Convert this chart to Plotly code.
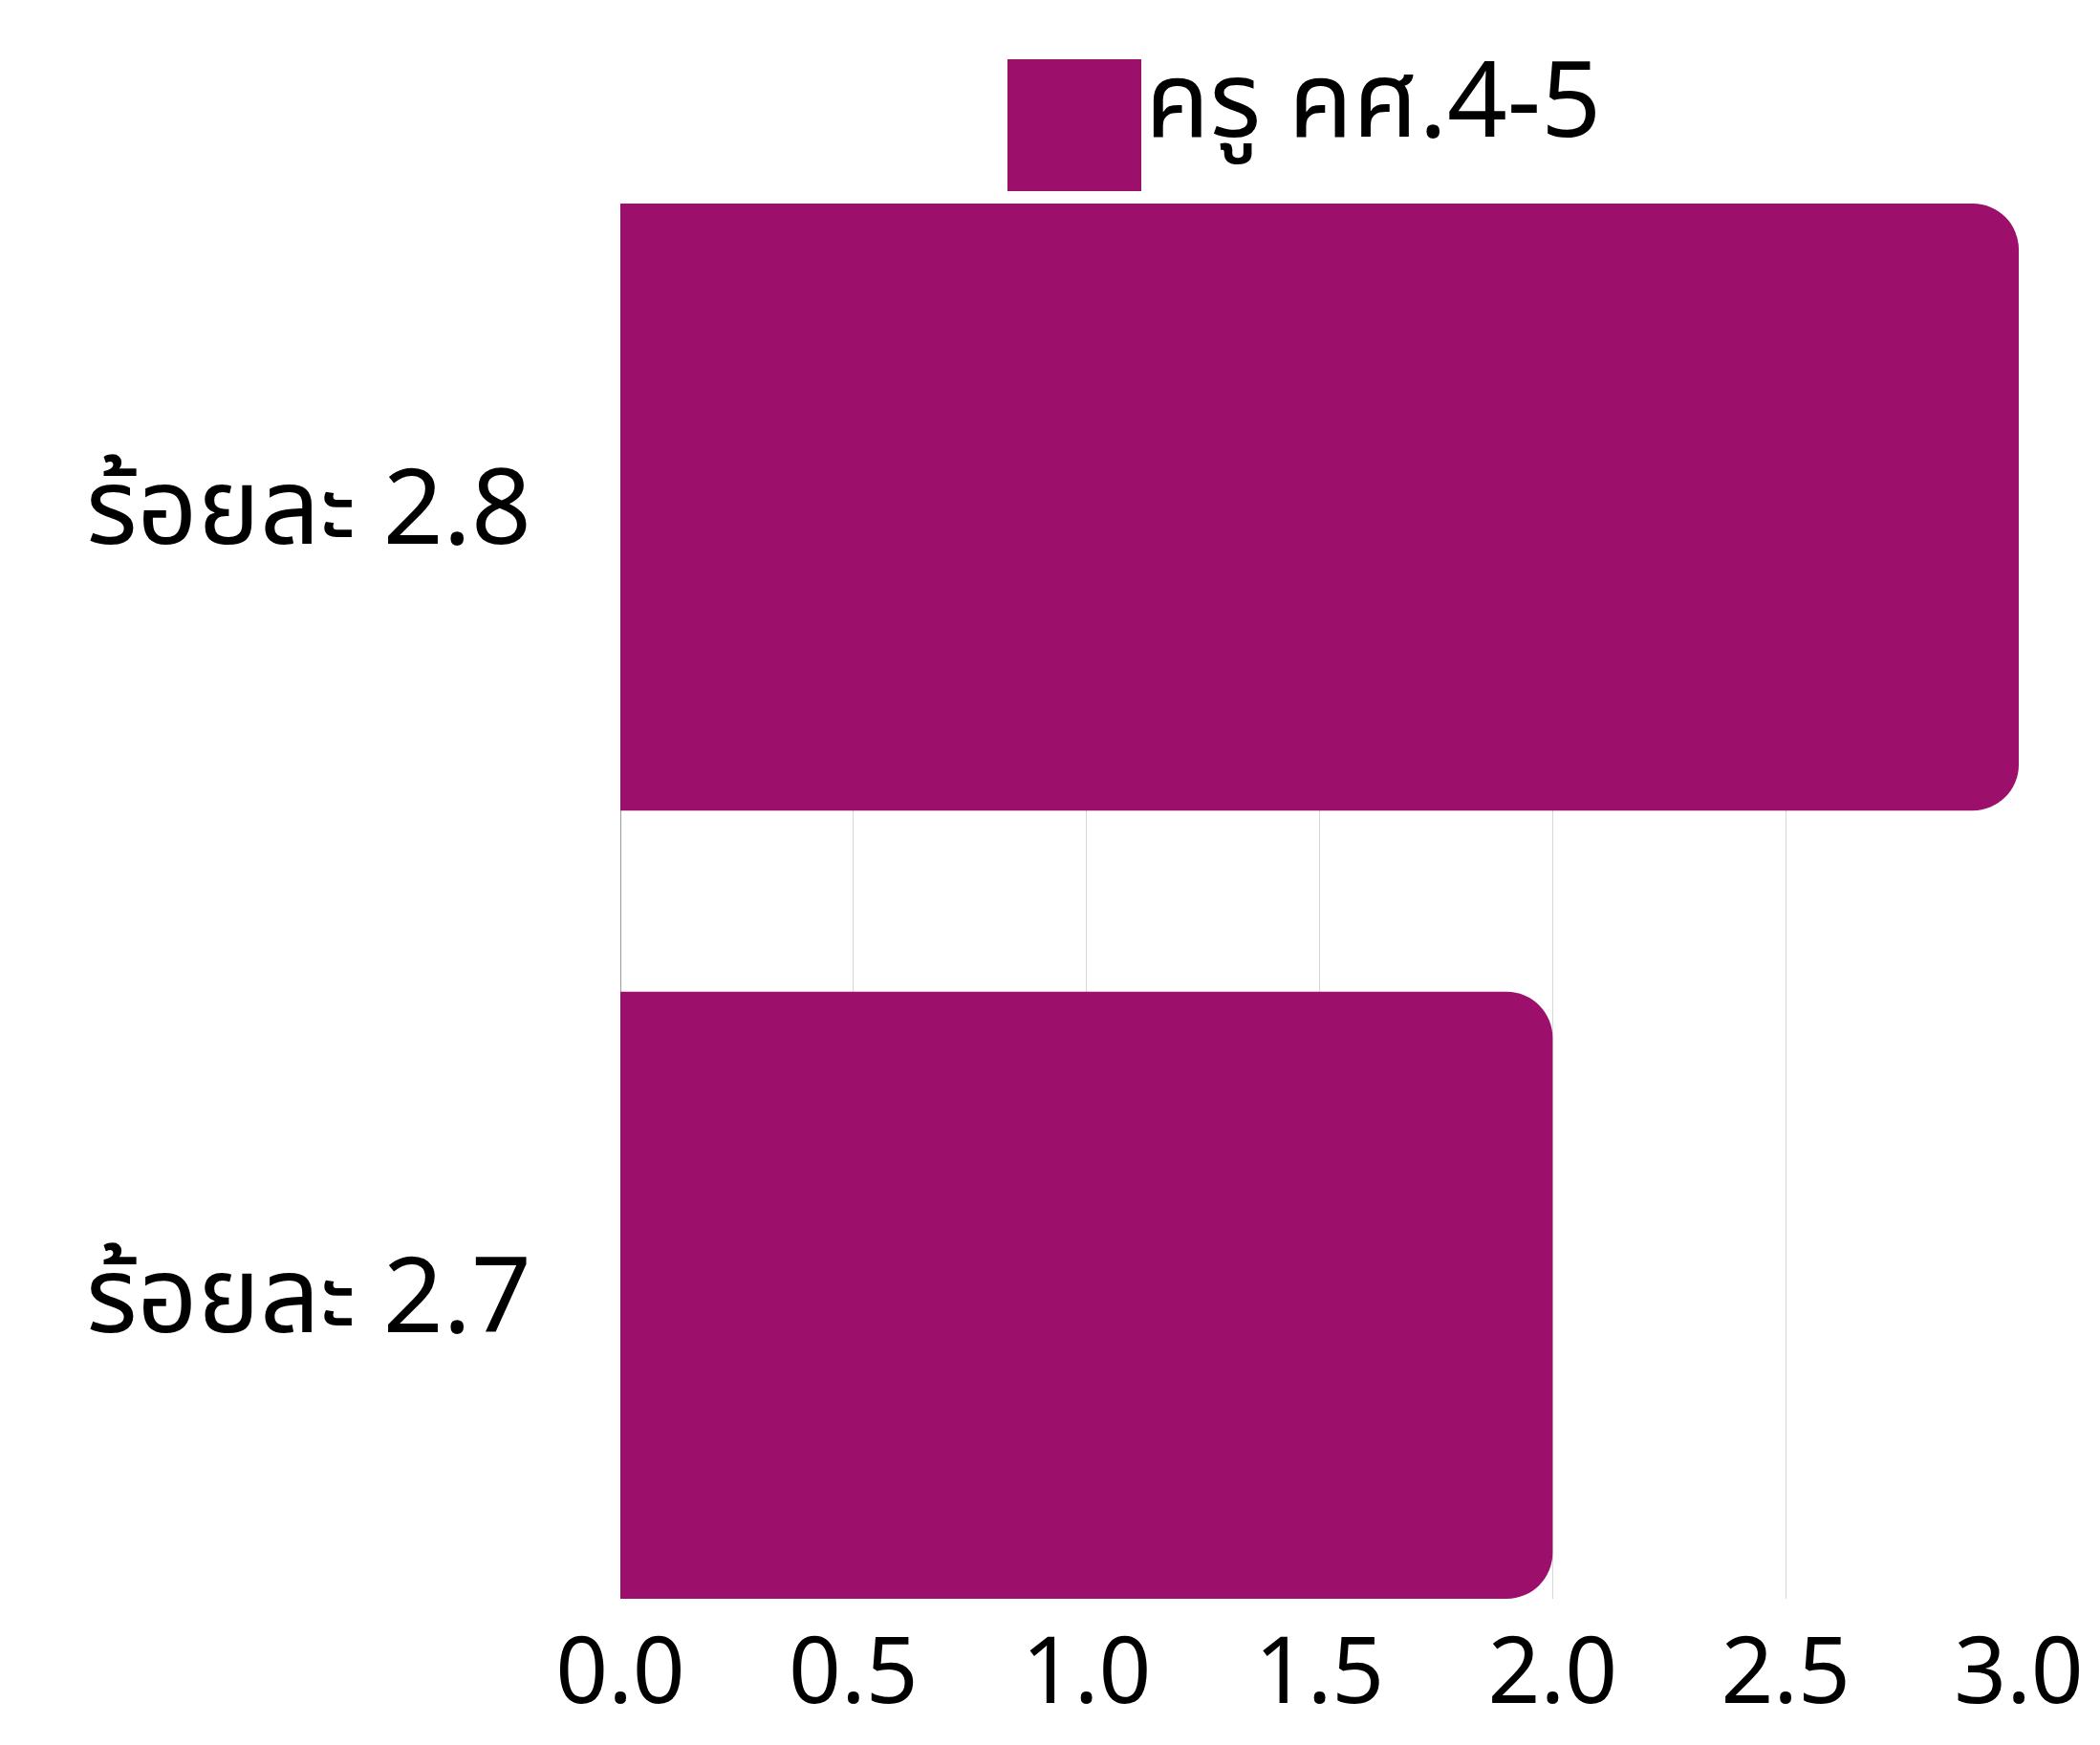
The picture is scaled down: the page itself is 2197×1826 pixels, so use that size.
import plotly.graph_objects as go

categories = ["ร้อยละ 2.8", "ร้อยละ 2.7"]
values = [3.0, 2.0]
series_name = "ครู คศ.4-5"
x_ticks = [0.0, 0.5, 1.0, 1.5, 2.0, 2.5, 3.0]
x_tick_labels = ["0.0", "0.5", "1.0", "1.5", "2.0", "2.5", "3.0"]

COLOR = "#9C106B"
FONT = "Noto Sans Thai, Noto Sans, sans-serif"

# plot area in page coordinates
PL, PR, PT, PB = 649, 2112, 213, 1673
PW, PH = PR - PL, PB - PT

fig = go.Figure()
fig.add_trace(go.Bar(
    y=categories,
    x=values,
    orientation="h",
    name=series_name,
    marker=dict(color=COLOR, cornerradius=48, line=dict(width=0)),
    showlegend=False,
))

# Legend drawn as shape + annotation (large swatch)
fig.add_shape(type="rect", xref="paper", yref="paper",
              x0=(1054 - PL) / PW, x1=(1194 - PL) / PW,
              y0=(PB - 200) / PH, y1=(PB - 62) / PH,
              fillcolor=COLOR, line=dict(width=0))
fig.add_annotation(xref="paper", yref="paper",
                   x=(1196 - PL) / PW, y=(PB - 109) / PH,
                   xanchor="left", yanchor="middle", showarrow=False,
                   text=series_name, font=dict(family=FONT, size=110, color="#000000"))

fig.update_layout(
    width=2197, height=1826,
    margin=dict(l=PL - 8, r=2197 - PR + 8, t=PT - 8, b=1826 - PB + 8),
    paper_bgcolor="white", plot_bgcolor="white",
    bargap=0.23,
    font=dict(family=FONT, color="#000000"),
)
fig.update_xaxes(
    range=[0, 3.0], tickvals=x_ticks, ticktext=x_tick_labels,
    showgrid=True, gridcolor="#d6d6d6", gridwidth=1,
    zeroline=True, zerolinecolor="#9a9a9a", zerolinewidth=1,
    showline=False, ticks="", ticklabelstandoff=12,
    tickfont=dict(family=FONT, size=96, color="#000000"),
    automargin=False,
)
fig.update_yaxes(
    range=[1.385, -0.385], showgrid=False, zeroline=False, showline=False,
    ticks="outside", ticklen=70, tickcolor="rgba(0,0,0,0)",
    tickfont=dict(family=FONT, size=110, color="#000000"),
    automargin=False,
)

fig.write_html("out.html")
